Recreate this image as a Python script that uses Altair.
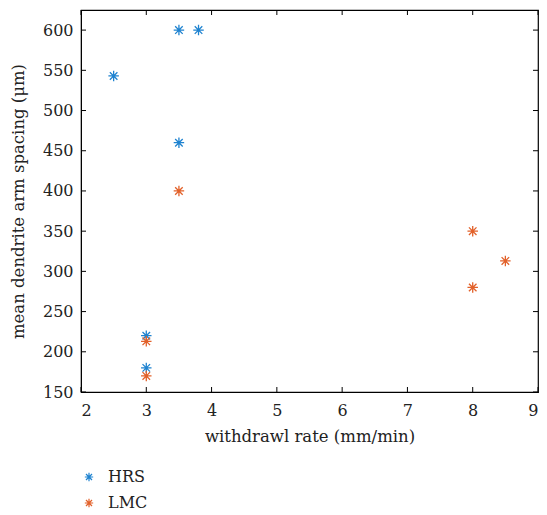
import altair as alt
import pandas as pd

# Data
hrs_x = [2.5, 3.5, 3.8, 3.5, 3.0, 3.0]
hrs_y = [543, 600, 600, 460, 220, 180]
lmc_x = [3.5, 3.0, 3.0, 8.0, 8.0, 8.5]
lmc_y = [400, 213, 170, 350, 280, 313]
series_names = ["HRS", "LMC"]
series_colors = ["#1f83d0", "#e2612a"]
x_ticks = [2, 3, 4, 5, 6, 7, 8, 9]
y_ticks = [150, 200, 250, 300, 350, 400, 450, 500, 550, 600]

W, H = 457, 382
FONT = "DejaVu Serif"
STAR = "M0,-1L0,1M-1,0L1,0M-0.72,-0.72L0.72,0.72M-0.72,0.72L0.72,-0.72"

df = pd.DataFrame({
    "rate": hrs_x + lmc_x,
    "spacing": hrs_y + lmc_y,
    "series": ["HRS"] * len(hrs_x) + ["LMC"] * len(lmc_x),
})
xdf = pd.DataFrame({"rate": x_ticks})
ydf = pd.DataFrame({"spacing": y_ticks})

xscale = alt.Scale(domain=[2, 9], nice=False, zero=False)
yscale = alt.Scale(domain=[150, 625], nice=False, zero=False)

xaxis = alt.Axis(values=x_ticks, grid=False, ticks=False, domainColor="black",
                 labelPadding=10, titlePadding=10)
yaxis = alt.Axis(values=y_ticks, grid=False, ticks=False, domainColor="black",
                 labelPadding=8, titlePadding=16)
XT = "withdrawl rate (mm/min)"
YT = "mean dendrite arm spacing (μm)"

points = alt.Chart(df).mark_point(shape=STAR, filled=False, size=110, strokeWidth=1.3, opacity=1).encode(
    x=alt.X("rate:Q", scale=xscale, title=XT, axis=xaxis),
    y=alt.Y("spacing:Q", scale=yscale, title=YT, axis=yaxis),
    color=alt.Color("series:N", scale=alt.Scale(domain=series_names, range=series_colors),
                    legend=alt.Legend(title=None, orient="none", legendX=0, legendY=459,
                                      symbolType=STAR, symbolSize=70, symbolStrokeWidth=1.2,
                                      symbolFillColor="transparent",
                                      rowPadding=10, labelOffset=11)),
)

tick_len = 5
bottom_ticks = alt.Chart(xdf).mark_rule(color="black", strokeWidth=1).encode(
    x=alt.X("rate:Q", scale=xscale, title=XT, axis=xaxis), y=alt.value(H), y2=alt.value(H - tick_len))
top_ticks = alt.Chart(xdf).mark_rule(color="black", strokeWidth=1).encode(
    x=alt.X("rate:Q", scale=xscale, title=XT, axis=xaxis), y=alt.value(0), y2=alt.value(tick_len))
left_ticks = alt.Chart(ydf).mark_rule(color="black", strokeWidth=1).encode(
    y=alt.Y("spacing:Q", scale=yscale, title=YT, axis=yaxis), x=alt.value(0), x2=alt.value(tick_len))
right_ticks = alt.Chart(ydf).mark_rule(color="black", strokeWidth=1).encode(
    y=alt.Y("spacing:Q", scale=yscale, title=YT, axis=yaxis), x=alt.value(W), x2=alt.value(W - tick_len))

chart = alt.layer(points, bottom_ticks, top_ticks, left_ticks, right_ticks).properties(
    width=W, height=H,
    autosize=alt.AutoSizeParams(type="none"),
    padding={"left": 81, "top": 10, "right": 9, "bottom": 123},
    background="white",
).configure_view(stroke="black", strokeWidth=1.2).configure_axis(
    labelFont=FONT, labelFontSize=16, labelColor="#222",
    titleFont=FONT, titleFontSize=16.5, titleFontWeight="normal", titleColor="#222",
).configure_legend(labelFont=FONT, labelFontSize=16, labelColor="#222")

chart.save("out.html", embed_options={"renderer": "svg", "actions": False})
